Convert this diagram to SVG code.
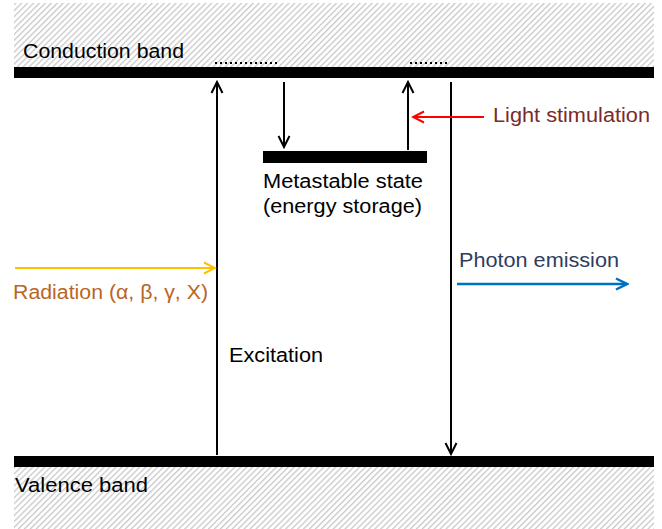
<svg xmlns="http://www.w3.org/2000/svg" width="662" height="529" viewBox="0 0 662 529">
<style>
  text { font-family: "Liberation Sans", Arial, sans-serif; font-size: 20px; }
  .bar { fill: #000; }
  .hatch { fill: url(#hatch); }
  .dots { stroke: #000; stroke-width: 2; stroke-dasharray: 2 3; fill: none; }
  .blk { stroke: #000; stroke-width: 2; fill: none; }
</style>
<defs>
  <pattern id="hatch" patternUnits="userSpaceOnUse" width="4.2" height="10" patternTransform="rotate(45)">
    <rect x="0" y="0" width="1.3" height="10" fill="#c9c9c9"/>
  </pattern>
  <marker id="aBlack" markerUnits="userSpaceOnUse" markerWidth="14" markerHeight="14" viewBox="0 0 14 14" refX="12" refY="7" orient="auto">
    <path d="M1,1.5 L12,7 L1,12.5" fill="none" stroke="#000" stroke-width="2"/>
  </marker>
  <marker id="aRed" markerUnits="userSpaceOnUse" markerWidth="14" markerHeight="14" viewBox="0 0 14 14" refX="12" refY="7" orient="auto">
    <path d="M1,1.5 L12,7 L1,12.5" fill="none" stroke="#ff0000" stroke-width="2"/>
  </marker>
  <marker id="aGold" markerUnits="userSpaceOnUse" markerWidth="14" markerHeight="14" viewBox="0 0 14 14" refX="12" refY="7" orient="auto">
    <path d="M1,1.5 L12,7 L1,12.5" fill="none" stroke="#ffc000" stroke-width="2"/>
  </marker>
  <marker id="aBlue" markerUnits="userSpaceOnUse" markerWidth="14" markerHeight="14" viewBox="0 0 14 14" refX="12" refY="7" orient="auto">
    <path d="M1,1.5 L12,7 L1,12.5" fill="none" stroke="#0070c0" stroke-width="2.5"/>
  </marker>
</defs>
<rect x="0" y="0" width="662" height="529" fill="#fff"/>

<g id="conduction-band">
  <rect class="hatch" x="14" y="3" width="640" height="64"/>
  <rect class="bar" x="14" y="67" width="640" height="11"/>
  <text x="23" y="58" textLength="161" lengthAdjust="spacingAndGlyphs">Conduction band</text>
  <line class="dots" x1="215" y1="63" x2="280" y2="63"/>
  <line class="dots" x1="410" y1="63" x2="449" y2="63"/>
</g>

<g id="valence-band">
  <rect class="bar" x="14" y="456" width="640" height="11"/>
  <rect class="hatch" x="14" y="467" width="640" height="62"/>
  <text x="15" y="492" textLength="133" lengthAdjust="spacingAndGlyphs">Valence band</text>
</g>

<g id="metastable-state">
  <rect class="bar" x="263" y="151" width="164" height="12"/>
  <text x="263" y="188" textLength="160" lengthAdjust="spacingAndGlyphs">Metastable state</text>
  <text x="263" y="213" textLength="159" lengthAdjust="spacingAndGlyphs">(energy storage)</text>
</g>

<g id="label-radiation">
  <text x="13" y="299" fill="#b9661f" textLength="195" lengthAdjust="spacingAndGlyphs">Radiation (α, β, γ, X)</text>
</g>
<g id="label-excitation">
  <text x="229" y="362" textLength="94" lengthAdjust="spacingAndGlyphs">Excitation</text>
</g>
<g id="label-light">
  <text x="493" y="122" fill="#7a2a2a" textLength="157" lengthAdjust="spacingAndGlyphs">Light stimulation</text>
</g>
<g id="label-photon">
  <text x="459" y="267" fill="#2e3d5e" textLength="160" lengthAdjust="spacingAndGlyphs">Photon emission</text>
</g>

<g id="connectors">
  <line class="blk" x1="217" y1="455" x2="217" y2="82" marker-end="url(#aBlack)"/>
  <line class="blk" x1="284" y1="82" x2="284" y2="147" marker-end="url(#aBlack)"/>
  <line class="blk" x1="408" y1="150" x2="408" y2="82" marker-end="url(#aBlack)"/>
  <line class="blk" x1="451" y1="82" x2="451" y2="454" marker-end="url(#aBlack)"/>
  <line x1="484" y1="117" x2="413" y2="117" stroke="#ff0000" stroke-width="2" marker-end="url(#aRed)"/>
  <line x1="15" y1="268" x2="215" y2="268" stroke="#ffc000" stroke-width="2" marker-end="url(#aGold)"/>
  <line x1="457" y1="284" x2="627" y2="284" stroke="#0070c0" stroke-width="2.5" marker-end="url(#aBlue)"/>
</g>
</svg>
